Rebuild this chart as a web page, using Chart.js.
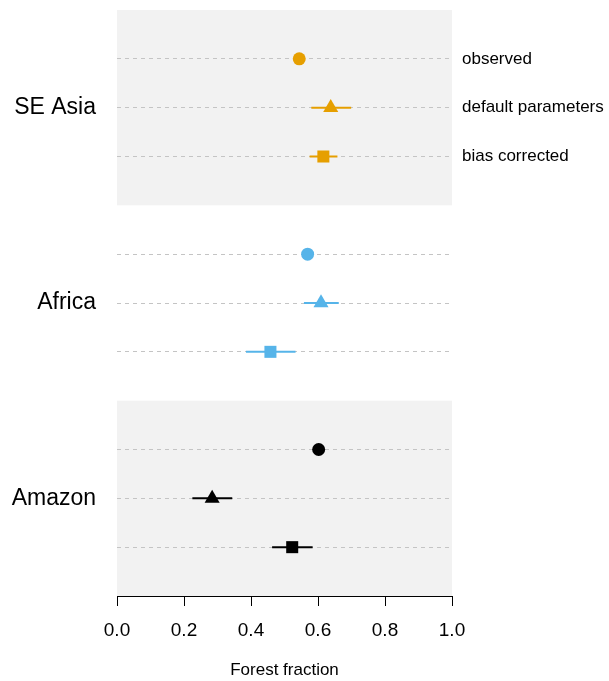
<!DOCTYPE html>
<html>
<head>
<meta charset="utf-8">
<script src="https://cdn.jsdelivr.net/npm/chart.js@4"></script>
<style>
  body { margin: 0; background: #fff; }
  #wrap { width: 609px; height: 681px; }
</style>
</head>
<body>
<div id="wrap"><canvas id="chart"></canvas></div>
<script>
const regions = ['SE Asia', 'Africa', 'Amazon'];
const methods = ['observed', 'default parameters', 'bias corrected'];
const colours = ['#E69F00', '#56B4E9', '#000000'];

// forest fraction per region
const observed = [0.544, 0.569, 0.602];
const defaultMid = [0.638, 0.609, 0.284];
const defaultLo = [0.580, 0.558, 0.225];
const defaultHi = [0.699, 0.662, 0.344];
const biasMid = [0.616, 0.458, 0.523];
const biasLo = [0.575, 0.385, 0.463];
const biasHi = [0.658, 0.533, 0.584];

const xTicks = [0, 0.2, 0.4, 0.6, 0.8, 1.0];

const FONT = "'Liberation Sans', Arial, Helvetica, sans-serif";

// each region takes 4 rows, methods sit on rows 1..3
const rowOf = (r, m) => r * 4 + m + 1;
const rowTicks = [];
regions.forEach((_, r) => methods.forEach((_, m) => rowTicks.push(rowOf(r, m))));

const datasets = regions.map((name, r) => ({
  label: name,
  data: [
    { x: observed[r], y: rowOf(r, 0) },
    { x: defaultMid[r], y: rowOf(r, 1), lo: defaultLo[r], hi: defaultHi[r] },
    { x: biasMid[r], y: rowOf(r, 2), lo: biasLo[r], hi: biasHi[r] },
  ],
  pointStyle: ['circle', 'triangle', 'rect'],
  pointRadius: [6.5, 8.7, 8.5],
  pointHoverRadius: [6.5, 8.7, 8.5],
  backgroundColor: colours[r],
  borderColor: colours[r],
  borderWidth: 0,
  showLine: false,
}));

const panels = {
  id: 'panels',
  beforeDraw(chart) {
    const { ctx, chartArea, scales } = chart;
    ctx.save();
    ctx.fillStyle = '#F2F2F2';
    [0, 2].forEach((r) => {
      const y0 = scales.y.getPixelForValue(r * 4);
      const y1 = scales.y.getPixelForValue(r * 4 + 4);
      ctx.fillRect(chartArea.left, Math.min(y0, y1), chartArea.right - chartArea.left, Math.abs(y1 - y0));
    });
    ctx.restore();
  },
};

const errorBars = {
  id: 'errorBars',
  beforeDatasetsDraw(chart) {
    const { ctx, scales } = chart;
    ctx.save();
    ctx.lineWidth = 2;
    chart.data.datasets.forEach((ds) => {
      ctx.strokeStyle = ds.borderColor;
      ds.data.forEach((p) => {
        if (p.lo === undefined) return;
        const y = scales.y.getPixelForValue(p.y);
        ctx.beginPath();
        ctx.moveTo(scales.x.getPixelForValue(p.lo), y);
        ctx.lineTo(scales.x.getPixelForValue(p.hi), y);
        ctx.stroke();
      });
    });
    ctx.restore();
  },
};

const setRowTicks = (scale) => {
  scale.ticks = rowTicks.map((v) => ({ value: v }));
};

const noPad = (scale) => {
  scale.paddingTop = 0;
  scale.paddingBottom = 0;
  scale.paddingLeft = 0;
  scale.paddingRight = 0;
};

new Chart(document.getElementById('chart'), {
  type: 'scatter',
  data: { datasets },
  plugins: [panels, errorBars],
  options: {
    responsive: true,
    maintainAspectRatio: false,
    animation: false,
    events: [],
    layout: { padding: { top: 10, bottom: 0, left: 0, right: 0 } },
    plugins: { legend: { display: false }, tooltip: { enabled: false } },
    scales: {
      x: {
        type: 'linear',
        min: 0,
        max: 1,
        afterBuildTicks: (scale) => { scale.ticks = xTicks.map((v) => ({ value: v })); },
        afterFit: (scale) => { noPad(scale); scale.height = 85; },
        ticks: {
          color: '#000',
          font: { family: FONT, size: 19 },
          padding: 13,
          callback: (v) => Number(v).toFixed(1),
        },
        grid: { drawOnChartArea: false, drawTicks: true, tickLength: 10, color: '#000', lineWidth: 1 },
        border: { display: true, color: '#000', width: 1 },
        title: {
          display: true,
          text: 'Forest fraction',
          color: '#000',
          font: { family: FONT, size: 17 },
          padding: { top: 0, bottom: 0 },
        },
      },
      y: {
        type: 'linear',
        position: 'left',
        min: 0,
        max: 12,
        reverse: true,
        afterBuildTicks: setRowTicks,
        afterFit: (scale) => { noPad(scale); scale.width = 117; },
        ticks: {
          color: '#000',
          font: { family: FONT, size: 23 },
          padding: 21,
          autoSkip: false,
          callback: (v) => {
            const r = Math.floor(v / 4);
            return v - r * 4 === 2 ? regions[r] : '';
          },
        },
        grid: { drawTicks: false, color: '#C4C4C4', lineWidth: 1 },
        border: { display: false, dash: [4, 4] },
      },
      yRight: {
        type: 'linear',
        position: 'right',
        min: 0,
        max: 12,
        reverse: true,
        afterBuildTicks: setRowTicks,
        afterFit: (scale) => { noPad(scale); scale.width = 157; },
        ticks: {
          color: '#000',
          font: { family: FONT, size: 17 },
          padding: 2,
          autoSkip: false,
          callback: (v) => (v < 4 ? methods[v - 1] : ''),
        },
        grid: { display: false },
        border: { display: false },
      },
    },
  },
});
</script>
</body>
</html>
